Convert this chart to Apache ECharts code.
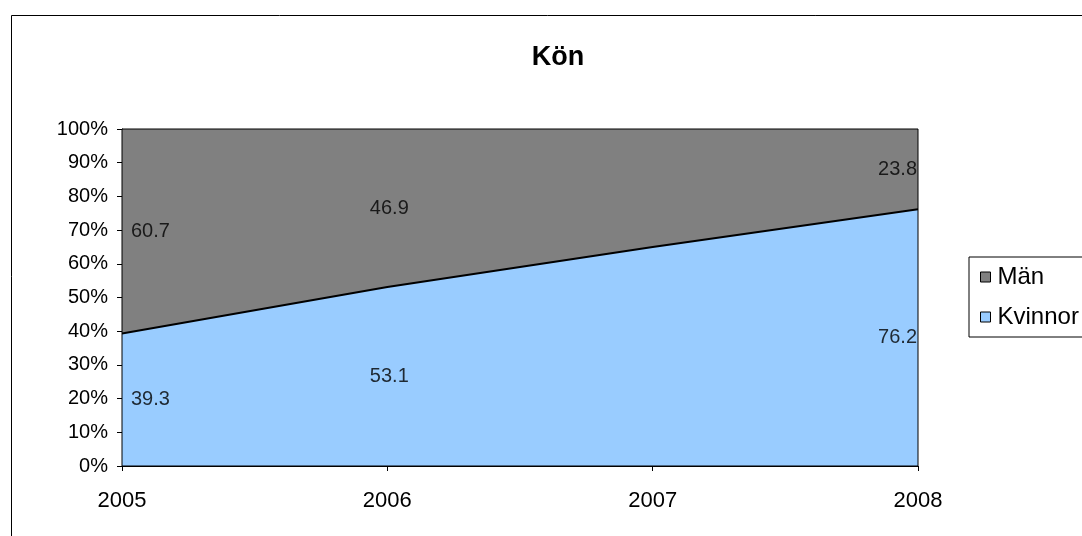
<!DOCTYPE html>
<html>
<head>
<meta charset="utf-8">
<script src="https://cdn.jsdelivr.net/npm/echarts@6/dist/echarts.min.js"></script>
<style>
html,body{margin:0;padding:0;background:#fff;}
#c{width:1082px;height:536px;}
</style>
</head>
<body>
<div id="c"></div>
<script>
const titleText = 'Kön';
const categories = ['2005', '2006', '2007', '2008'];
const kvinnor = [39.3, 53.1, 65.0, 76.2];
const man = [60.7, 46.9, 35.0, 23.8];
const showLabel = [true, true, false, true];
const yTicks = [0, 10, 20, 30, 40, 50, 60, 70, 80, 90, 100];

const FONT = 'Liberation Sans, Arial, sans-serif';
const n = categories.length;
function alignFor(i) { return i === 0 ? 'left' : (i === n - 1 ? 'right' : 'center'); }
function labelPoints(vals, base) {
  return vals.map((v, i) => ({
    value: [categories[i], base[i] + v / 2],
    raw: v,
    label: { show: showLabel[i], align: alignFor(i), offset: [i === 0 ? 9 : (i === n - 1 ? -1 : 2), 0] }
  }));
}
const zeros = categories.map(() => 0);

const chart = echarts.init(document.getElementById('c'));
chart.setOption({
  animation: false,
  backgroundColor: '#fff',
  textStyle: { fontFamily: FONT },
  title: {
    text: titleText, left: 553, top: 39, textAlign: 'center',
    textStyle: { fontFamily: FONT, fontSize: 27, fontWeight: 'bold', color: '#000' }
  },
  graphic: [{
    type: 'rect', left: 9, top: 13, z: -10,
    shape: { width: 1200, height: 600 },
    style: { fill: 'none', stroke: '#000', lineWidth: 1 }
  }],
  grid: {
    left: 122, right: 164, top: 129, bottom: 70,
    show: true, borderColor: '#000', borderWidth: 1, backgroundColor: 'transparent', z: 5
  },
  legend: {
    data: ['Män', 'Kvinnor'],
    orient: 'vertical', left: 969, top: 257,
    icon: 'rect', itemWidth: 10, itemHeight: 10, itemGap: 16,
    padding: [8, 40, 8, 11],
    backgroundColor: '#fff', borderColor: '#000', borderWidth: 1,
    itemStyle: { borderColor: '#000', borderWidth: 1 },
    textStyle: { fontFamily: FONT, fontSize: 24, color: '#000', padding: [0, 0, 0, 2] }
  },
  xAxis: {
    type: 'category', data: categories, boundaryGap: false,
    axisLine: { lineStyle: { color: '#000', width: 1 } },
    axisTick: { show: true, length: 5, lineStyle: { color: '#000' } },
    axisLabel: { color: '#000', fontSize: 22, margin: 24, fontFamily: FONT },
    splitLine: { show: false }
  },
  yAxis: {
    type: 'value', min: yTicks[0], max: yTicks[yTicks.length - 1], interval: 10,
    axisLine: { show: true, lineStyle: { color: '#000', width: 1 } },
    axisTick: { show: true, length: 5, lineStyle: { color: '#000' } },
    axisLabel: { color: '#000', fontSize: 20, margin: 14, fontFamily: FONT, formatter: '{value}%' },
    splitLine: { show: false }
  },
  series: [
    {
      name: 'Kvinnor', type: 'line', stack: 'tot', data: kvinnor,
      symbol: 'none', color: '#99CCFF',
      lineStyle: { color: '#000', width: 2 },
      areaStyle: { color: '#99CCFF', opacity: 1 }, z: 2
    },
    {
      name: 'Män', type: 'line', stack: 'tot', data: man,
      symbol: 'none', color: '#808080',
      lineStyle: { color: '#000', width: 0 },
      areaStyle: { color: '#808080', opacity: 1 }, z: 1
    },
    {
      name: 'lblK', type: 'scatter', symbolSize: 0, z: 10, silent: true,
      data: labelPoints(kvinnor, zeros),
      label: { show: true, position: 'inside', color: '#000', fontSize: 20, fontFamily: FONT,
        formatter: p => p.data.raw.toFixed(1) }
    },
    {
      name: 'lblM', type: 'scatter', symbolSize: 0, z: 10, silent: true,
      data: labelPoints(man, kvinnor),
      label: { show: true, position: 'inside', color: '#000', fontSize: 20, fontFamily: FONT,
        formatter: p => p.data.raw.toFixed(1) }
    }
  ]
});
</script>
</body>
</html>
